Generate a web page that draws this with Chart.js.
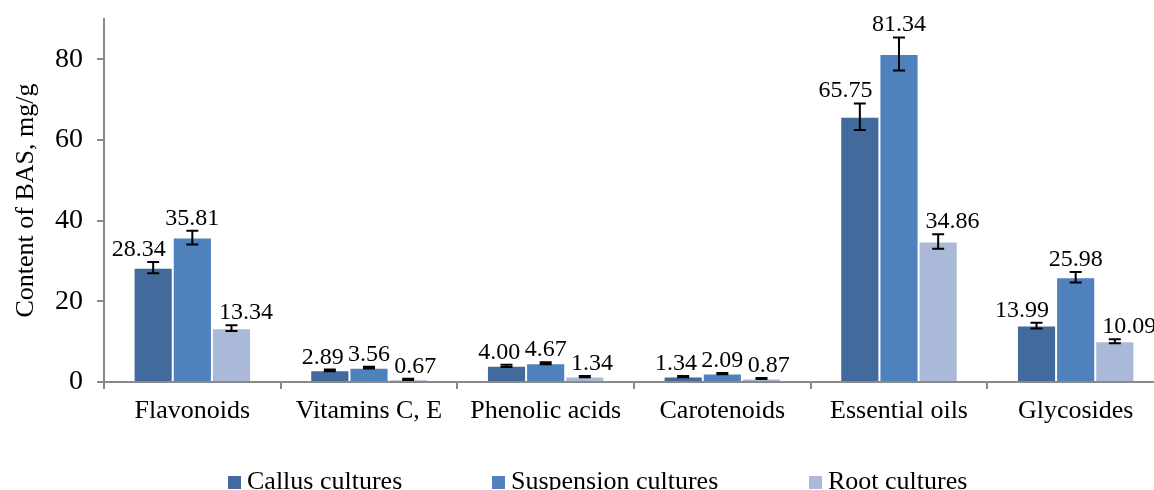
<!DOCTYPE html>
<html>
<head>
<meta charset="utf-8">
<script src="https://cdn.jsdelivr.net/npm/chart.js@4"></script>
<style>
  html, body { margin: 0; padding: 0; background: #fff; overflow: hidden; }
</style>
</head>
<body>
<canvas id="bas-canvas" width="1164" height="500"></canvas>
<script>
const categories = ['Flavonoids', 'Vitamins C, E', 'Phenolic acids', 'Carotenoids', 'Essential oils', 'Glycosides'];
const callus = [28.34, 2.89, 4.00, 1.34, 65.75, 13.99];
const suspension = [35.81, 3.56, 4.67, 2.09, 81.34, 25.98];
const root = [13.34, 0.67, 1.34, 0.87, 34.86, 10.09];
const callusErr = [1.4, 0.2, 0.25, 0.15, 3.3, 0.7];
const suspensionErr = [1.7, 0.2, 0.25, 0.15, 4.1, 1.3];
const rootErr = [0.7, 0.15, 0.15, 0.15, 1.8, 0.5];
const yTicks = [0, 20, 40, 60, 80];

const serif = '"Liberation Serif", "Times New Roman", serif';

// labels of outer bars get pushed sideways a bit, like in the original
const labelSide = [-1, 0, 1];

// error bars + value labels drawn on top of the bars
const barExtras = {
    id: 'barExtras',
    afterDatasetsDraw(chart) {
        let ctx = chart.ctx;
        let yScale = chart.scales.y;
        chart.data.datasets.forEach((ds, i) => {
            let meta = chart.getDatasetMeta(i);
            meta.data.forEach((bar, j) => {
                let v = ds.data[j];
                let e = ds.errors[j];
                let yHi = yScale.getPixelForValue(v + e);
                let yLo = yScale.getPixelForValue(v - e);
                ctx.save();
                ctx.strokeStyle = '#000';
                ctx.lineWidth = 2;
                ctx.beginPath();
                ctx.moveTo(bar.x, yHi);
                ctx.lineTo(bar.x, yLo);
                ctx.moveTo(bar.x - 6, yHi);
                ctx.lineTo(bar.x + 6, yHi);
                ctx.moveTo(bar.x - 6, yLo);
                ctx.lineTo(bar.x + 6, yLo);
                ctx.stroke();
                let txt = v.toFixed(2);
                ctx.fillStyle = '#000';
                ctx.font = '24px ' + serif;
                ctx.textAlign = 'center';
                ctx.textBaseline = 'alphabetic';
                let w = ctx.measureText(txt).width;
                let shift = labelSide[i] * Math.max(0, w - 30) * 0.6;
                ctx.fillText(txt, bar.x + shift, yHi - 6);
                ctx.restore();
            });
        });
    }
};

// legend like the original: small squares, text right next to them
const legendX = [228, 492, 809];
const flatLegend = {
    id: 'flatLegend',
    afterDraw(chart) {
        let ctx = chart.ctx;
        ctx.save();
        ctx.font = '26px ' + serif;
        ctx.textBaseline = 'alphabetic';
        ctx.textAlign = 'left';
        chart.data.datasets.forEach((ds, i) => {
            let x = legendX[i];
            ctx.fillStyle = ds.backgroundColor;
            ctx.fillRect(x, 476, 13, 13);
            ctx.fillStyle = '#000';
            ctx.fillText(ds.label, x + 19, 489);
        });
        ctx.restore();
    }
};

let ctx = document.getElementById('bas-canvas').getContext('2d');

let basChart = new Chart(ctx, {
    type: 'bar',
    data: {
        labels: categories,
        datasets: [{
            label: 'Callus cultures',
            data: callus,
            errors: callusErr,
            backgroundColor: '#426A9C',
            borderColor: 'rgba(255, 255, 255, 0.35)',
            borderWidth: 1
        }, {
            label: 'Suspension cultures',
            data: suspension,
            errors: suspensionErr,
            backgroundColor: '#4F81BD',
            borderColor: 'rgba(255, 255, 255, 0.35)',
            borderWidth: 1
        }, {
            label: 'Root cultures',
            data: root,
            errors: rootErr,
            backgroundColor: '#AAB9D7',
            borderColor: 'rgba(255, 255, 255, 0.35)',
            borderWidth: 1
        }]
    },
    options: {
        responsive: false,
        animation: false,
        layout: {
            padding: { left: 0, right: 0, top: 19, bottom: 58 }
        },
        datasets: {
            bar: { categoryPercentage: 0.665, barPercentage: 1.0 }
        },
        plugins: {
            tooltip: { enabled: false },
            legend: { display: false }
        },
        scales: {
            x: {
                offset: true,
                grid: {
                    offset: true,
                    drawOnChartArea: false,
                    tickLength: 7,
                    color: '#898989',
                    lineWidth: 2
                },
                border: { color: '#898989', width: 2 },
                ticks: {
                    color: '#000',
                    font: { family: serif, size: 26 },
                    padding: 7,
                    maxRotation: 0
                },
                afterFit(scale) {
                    scale.height = 60;
                    scale.paddingLeft = 0;
                    scale.paddingRight = 0;
                }
            },
            y: {
                min: 0,
                max: 90,
                afterBuildTicks(scale) {
                    scale.ticks = yTicks.map(v => ({ value: v }));
                },
                grid: {
                    drawOnChartArea: false,
                    tickLength: 7,
                    color: '#898989',
                    lineWidth: 2
                },
                border: { color: '#898989', width: 2 },
                ticks: {
                    color: '#000',
                    font: { family: serif, size: 28 },
                    padding: 14
                },
                title: {
                    display: true,
                    text: 'Content of BAS, mg/g',
                    color: '#000',
                    font: { family: serif, size: 26 },
                    padding: { top: 11, bottom: 0 }
                },
                afterFit(scale) {
                    scale.width = 104;
                    scale.paddingTop = 0;
                    scale.paddingBottom = 0;
                }
            }
        }
    },
    plugins: [barExtras, flatLegend]
});
</script>
</body>
</html>
